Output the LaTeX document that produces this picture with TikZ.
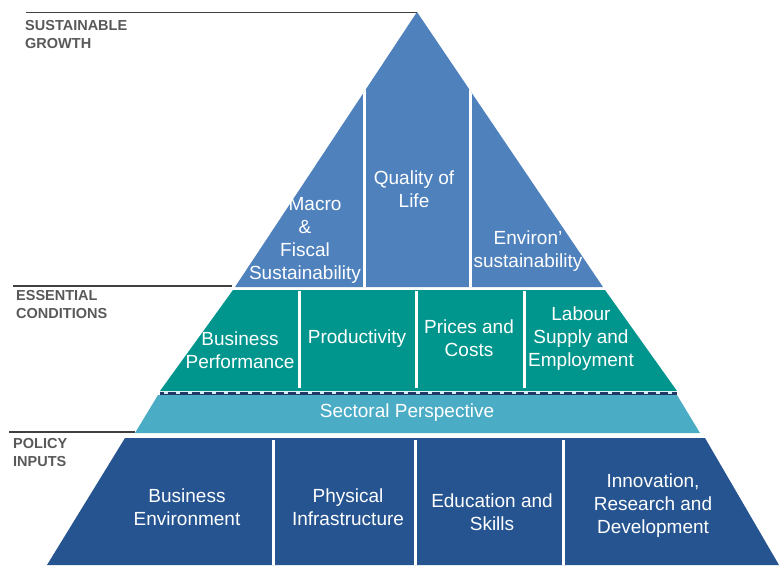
\documentclass[tikz,border=0pt]{standalone}
\usepackage{fontspec}
\setmainfont{Liberation Sans}
\usepackage{tikz}
\tikzset{>=latex}

\definecolor{topblue}{RGB}{79,129,189}
\definecolor{condteal}{RGB}{0,150,141}
\definecolor{sectaqua}{RGB}{75,172,198}
\definecolor{inputnavy}{RGB}{37,84,145}
\definecolor{dashnavy}{RGB}{31,56,100}
\definecolor{lblgray}{RGB}{89,89,89}

\begin{document}
\begin{tikzpicture}[x=1pt,y=-1pt,
  blocktxt/.style={text=white, align=center, inner sep=0,
    font=\fontsize{19}{23}\selectfont},
  sidelbl/.style={text=lblgray, align=left, anchor=west, inner sep=0,
    font=\bfseries\fontsize{14.5}{18}\selectfont}]

\useasboundingbox (0,0) rectangle (779,565);

% top: sustainable growth
\fill[topblue] (417,12)--(603,287)--(235,287)--cycle;
\begin{scope}
\clip (417,12)--(603,287)--(235,287)--cycle;
\draw[white, line width=3] (364,0)--(364,290);
\draw[white, line width=3] (470,0)--(470,290);
\end{scope}

% essential conditions
\fill[condteal] (233,290)--(605,290)--(677,391)--(160,391)--cycle;
\draw[white, line width=3] (299,291)--(299,388);
\draw[white, line width=3] (416,291)--(416,388);
\draw[white, line width=3] (524,291)--(524,388);
\draw[dashnavy, line width=3] (160,393)--(677,393);
\draw[white!75!sectaqua, line width=1.2, dash pattern=on 4 off 8] (164,393)--(674,393);

% sectoral band
\fill[sectaqua] (158,395)--(677,395)--(700,433)--(135,433)--cycle;

% policy inputs
\fill[inputnavy] (125,438)--(705,438)--(779,565)--(47,565)--cycle;
\draw[white, line width=3] (273,440)--(273,565);
\draw[white, line width=3] (415,440)--(415,565);
\draw[white, line width=3] (563,440)--(563,565);

% side labels
\draw[black!75, line width=1.3] (26,12.5)--(417,12.5);
\draw[black!75, line width=1.3] (13,286)--(232,286);
\draw[black!75, line width=1.3] (9,432)--(135,432);

\node[sidelbl] (growth) at (25,35) {SUSTAINABLE\\GROWTH};
\node[sidelbl] (conditions) at (16,305) {ESSENTIAL\\CONDITIONS};
\node[sidelbl] (inputs) at (13,453) {POLICY\\INPUTS};

\node[blocktxt] (macro) at (305,240) {\hspace*{20pt}Macro\\\&\\Fiscal\\Sustainability};
\node[blocktxt] (qol) at (414,189) {Quality of\\Life};
\node[blocktxt] (environ) at (528,251) {Environ'\\sustainability};

\node[blocktxt] (busperf) at (240,350) {Business\\Performance};
\node[blocktxt] (product) at (357,339) {Productivity};
\node[blocktxt] (prices) at (469,338) {Prices and\\Costs};
\node[blocktxt] (labour) at (581,339) {Labour\\Supply and\\Employment};

\node[blocktxt] (sector) at (407,413) {Sectoral Perspective};

\node[blocktxt] (busenv) at (187,507) {Business\\Environment};
\node[blocktxt] (infra) at (348,507) {Physical\\Infrastructure};
\node[blocktxt] (educ) at (492,512) {Education and\\Skills};
\node[blocktxt] (innov) at (653,506) {Innovation,\\Research and\\Development};

\end{tikzpicture}
\end{document}
